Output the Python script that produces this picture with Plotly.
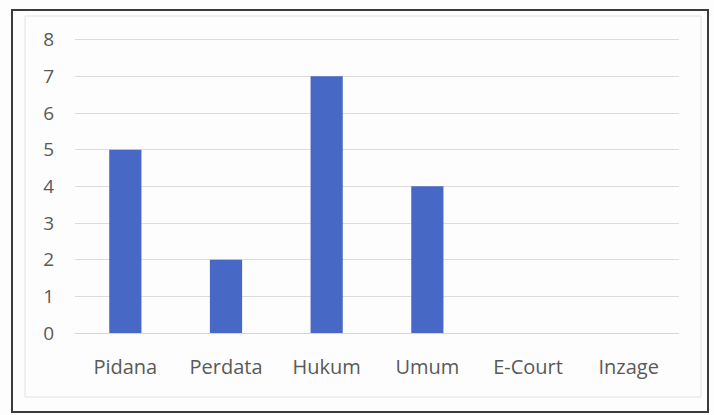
import plotly.graph_objects as go

categories = ["Pidana", "Perdata", "Hukum", "Umum", "E-Court", "Inzage"]
values = [5, 2, 7, 4, 0, 0]
y_ticks = [0, 1, 2, 3, 4, 5, 6, 7, 8]

W, H = 714, 415
L, R, T, B = 75, 35, 36, 82
pw, ph = W - L - R, H - T - B

def px(x):
    return (x - L) / pw

def py(y):
    return (H - B - y) / ph

fig = go.Figure(go.Bar(x=categories, y=values, marker_color="#4868c6",
                       marker_line_width=0, width=0.32))

fig.update_layout(
    width=W, height=H,
    margin=dict(l=L, r=R, t=T, b=B),
    paper_bgcolor="#fdfdfd", plot_bgcolor="#fdfdfd",
    font=dict(family="Open Sans", size=20, color="#595959"),
    showlegend=False,
    shapes=[
        dict(type="rect", xref="paper", yref="paper",
             x0=px(25), x1=px(701), y0=py(397), y1=py(16),
             line=dict(color="#e2e2e2", width=1), layer="below"),
        dict(type="rect", xref="paper", yref="paper",
             x0=px(12), x1=px(708), y0=py(412), y1=py(10),
             line=dict(color="#3a3a3a", width=2), layer="below"),
    ],
)
fig.update_xaxes(showgrid=False, showline=False, zeroline=False,
                 ticks="", ticklabelstandoff=20, tickfont=dict(size=20))
fig.update_yaxes(range=[0, 8.1], tickvals=y_ticks, showgrid=True,
                 gridcolor="#dcdcdc", gridwidth=1, zeroline=True,
                 zerolinecolor="#d6d6d6", zerolinewidth=1, showline=False,
                 ticks="", ticklabelstandoff=20, tickfont=dict(size=19))

fig.write_html("out.html", config={"displayModeBar": False},
               post_script="document.body.style.margin='0';document.body.style.overflow='hidden';")
